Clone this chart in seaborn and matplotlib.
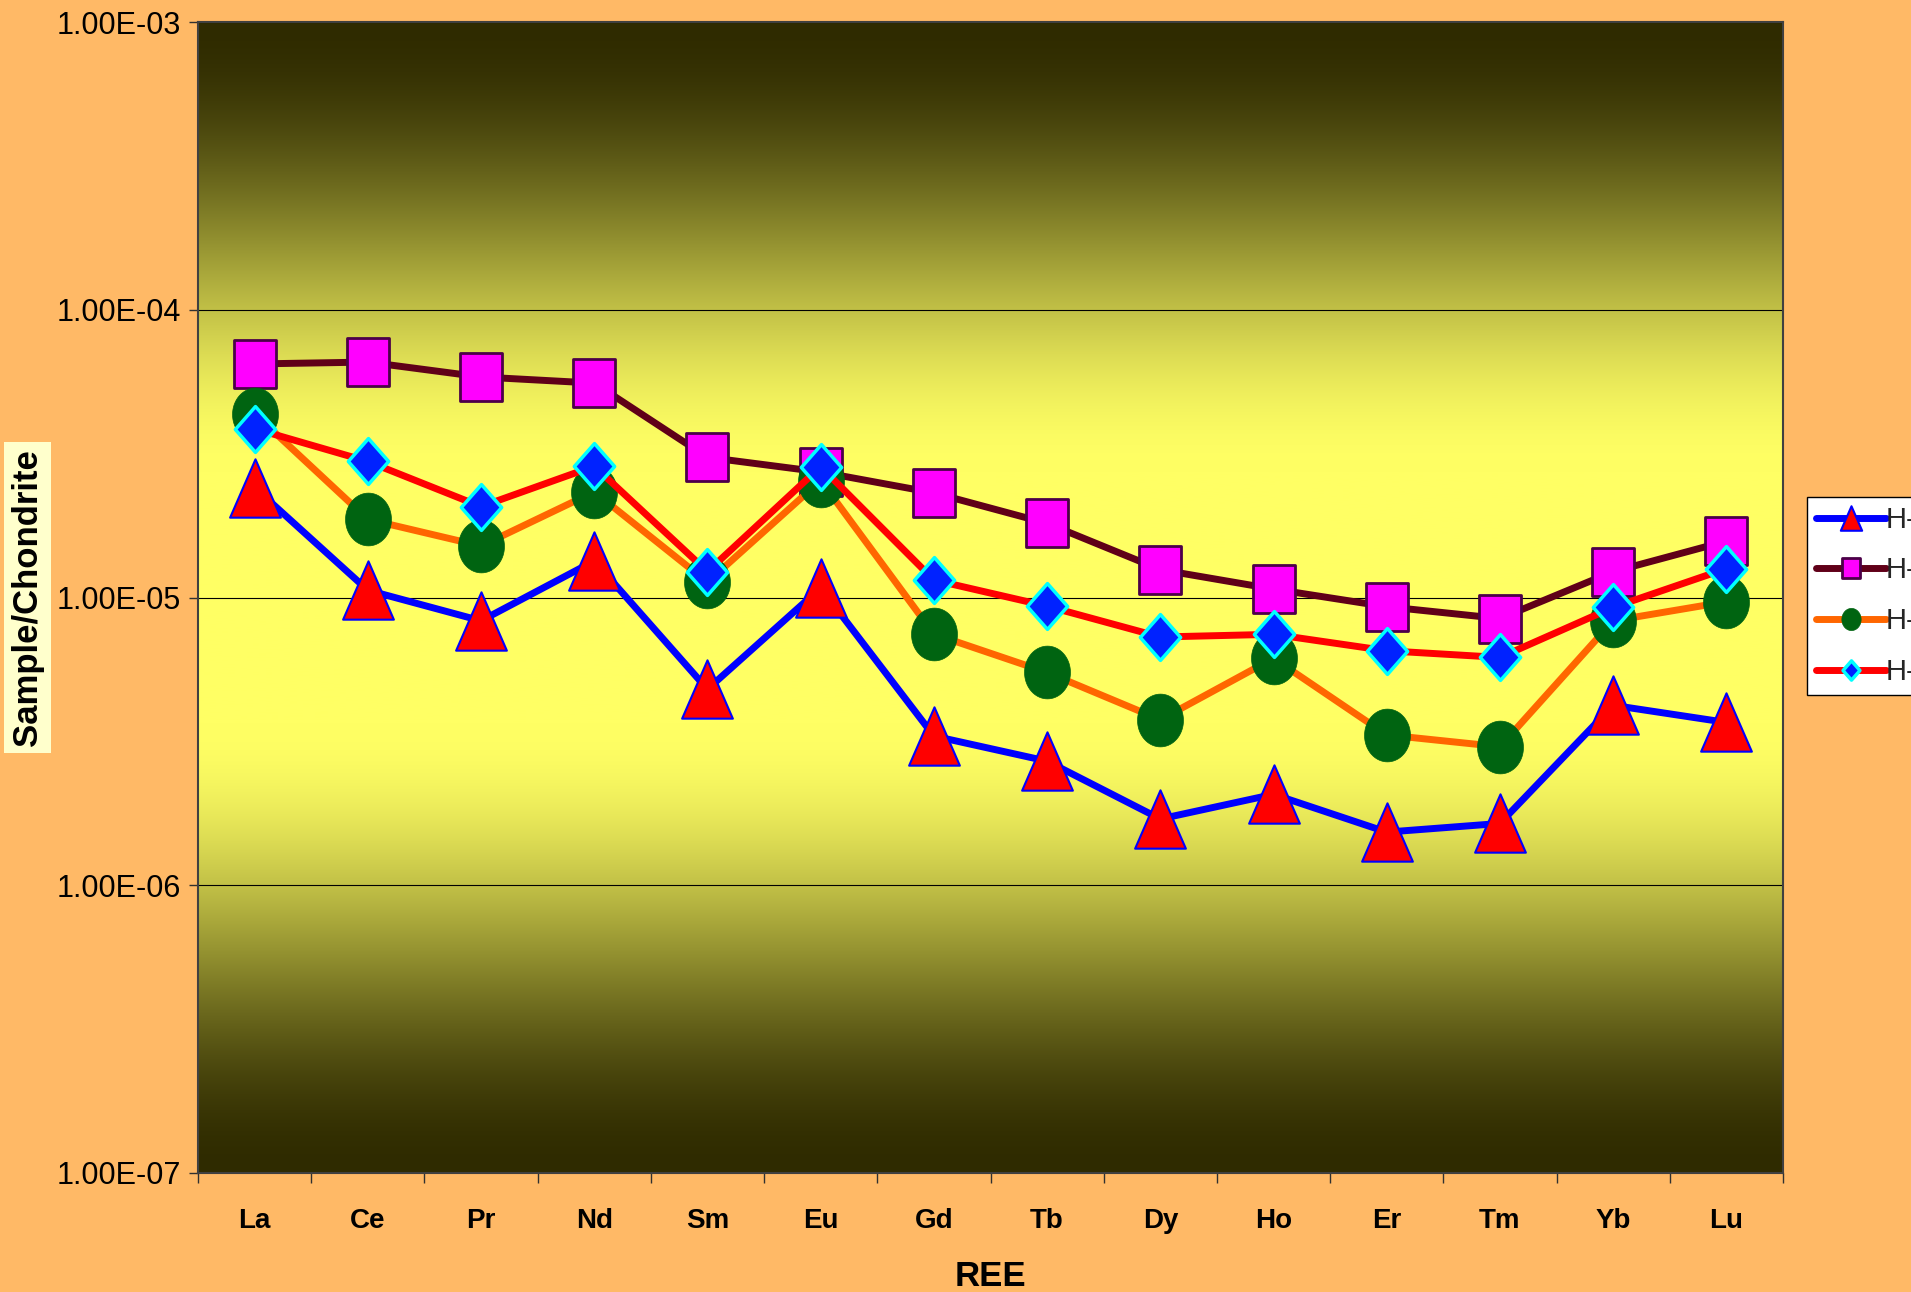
import numpy as np
import pandas as pd
import matplotlib
matplotlib.use("Agg")
import matplotlib.pyplot as plt
from matplotlib.path import Path
from matplotlib.ticker import FixedLocator, FixedFormatter, NullLocator, NullFormatter, FuncFormatter
import seaborn as sns

# Chondrite-normalised REE values
elements = ["La", "Ce", "Pr", "Nd", "Sm", "Eu", "Gd", "Tb", "Dy", "Ho", "Er", "Tm", "Yb", "Lu"]
series_names = ["H-1", "H-2", "H-3", "H-4"]
h1 = [2.41e-5, 1.06e-5, 8.3e-6, 1.34e-5, 4.8e-6, 1.08e-5, 3.3e-6, 2.7e-6, 1.7e-6, 2.07e-6, 1.53e-6, 1.64e-6, 4.22e-6, 3.68e-6]
h2 = [6.48e-5, 6.58e-5, 5.84e-5, 5.56e-5, 3.07e-5, 2.73e-5, 2.31e-5, 1.81e-5, 1.25e-5, 1.07e-5, 9.29e-6, 8.45e-6, 1.23e-5, 1.57e-5]
h3 = [4.35e-5, 1.87e-5, 1.51e-5, 2.33e-5, 1.13e-5, 2.55e-5, 7.46e-6, 5.49e-6, 3.76e-6, 6.15e-6, 3.33e-6, 3.03e-6, 8.30e-6, 9.67e-6]
h4 = [3.86e-5, 2.97e-5, 2.07e-5, 2.86e-5, 1.23e-5, 2.85e-5, 1.15e-5, 9.33e-6, 7.29e-6, 7.45e-6, 6.53e-6, 6.19e-6, 9.24e-6, 1.26e-5]
y_ticks = [1e-7, 1e-6, 1e-5, 1e-4, 1e-3]

df = pd.DataFrame({"REE": elements, "H-1": h1, "H-2": h2, "H-3": h3, "H-4": h4})
long = df.melt(id_vars="REE", var_name="sample", value_name="ratio")

# Marker outlines, slightly taller than wide
def closed(points):
    return Path(np.array(points + [points[0]]), closed=True)

tri = closed([(0, 1), (-0.87, -1), (0.87, -1)])
sqr = closed([(-0.865, -1), (0.865, -1), (0.865, 1), (-0.865, 1)])
dia = closed([(0, 1), (0.88, 0), (0, -1), (-0.88, 0)])
th = np.linspace(0, 2 * np.pi, 73)[:-1]
ell = closed([(0.87 * np.cos(a), np.sin(a)) for a in th])

styles = {
    "H-1": dict(color="#0000FF", marker=tri, markersize=42, markerfacecolor="#FF0000",
                markeredgecolor="#0000FF", markeredgewidth=1.5),
    "H-2": dict(color="#600018", marker=sqr, markersize=35, markerfacecolor="#FF00FF",
                markeredgecolor="#4B0048", markeredgewidth=2.0),
    "H-3": dict(color="#FF6600", marker=ell, markersize=38, markerfacecolor="#006411",
                markeredgecolor="#006411", markeredgewidth=0.5),
    "H-4": dict(color="#FF0000", marker=dia, markersize=33, markerfacecolor="#0022FF",
                markeredgecolor="#00FFFF", markeredgewidth=2.5),
}

sns.set_theme(style="white")
plt.rcParams["font.family"] = ["Liberation Sans", "DejaVu Sans"]

W, H = 1911, 1292
fig = plt.figure(figsize=(W / 100, H / 100), dpi=100, facecolor="#FFB966")
rect = [198 / W, 1 - 1173 / H, 1585 / W, 1151 / H]

# Plot-area gradient: dark olive at the edges, bright yellow band in the middle
bg = fig.add_axes(rect, zorder=0)
t = np.abs(np.linspace(-1, 1, 800))
x = np.clip((t - 0.22) / 0.78, 0, 1)
f = (3 * x ** 2 - 2 * x ** 3)[:, None]
bright = np.array([255, 255, 100]) / 255
dark = np.array([47, 43, 0]) / 255
grad = bright[None, :] * (1 - f) + dark[None, :] * f
bg.imshow(grad[:, None, :], aspect="auto", extent=[0, 1, 0, 1], interpolation="bilinear")
bg.set_axis_off()

ax = fig.add_axes(rect, zorder=1)
ax.set_facecolor("none")

for i, name in enumerate(series_names):
    sub = long[long["sample"] == name]
    sns.lineplot(data=sub, x="REE", y="ratio", ax=ax, sort=False, errorbar=None,
                 label=name, linewidth=5, zorder=3 + i, **styles[name])

ax.set_yscale("log")
ax.set_ylim(1e-7, 1e-3)
ax.set_xlim(-0.5, len(elements) - 0.5)

ax.yaxis.set_major_locator(FixedLocator(y_ticks))
ax.yaxis.set_major_formatter(FuncFormatter(lambda v, p: f"{v:.2E}"))
ax.yaxis.set_minor_locator(NullLocator())

ax.xaxis.set_major_locator(FixedLocator(np.arange(-0.5, len(elements), 1.0)))
ax.xaxis.set_major_formatter(NullFormatter())
ax.xaxis.set_minor_locator(FixedLocator(np.arange(len(elements))))
ax.xaxis.set_minor_formatter(FixedFormatter(elements))

ax.tick_params(axis="y", which="major", left=True, direction="out", length=6.5, width=1,
               color="#303030", pad=6, labelsize=22, labelcolor="black")
ax.tick_params(axis="x", which="major", bottom=True, direction="out", length=7, width=1,
               color="#303030")
ax.tick_params(axis="x", which="minor", bottom=True, length=0, pad=25, labelsize=20,
               labelcolor="black")
for lbl in ax.get_xticklabels(minor=True):
    lbl.set_fontweight("bold")

ax.grid(False)
ax.yaxis.grid(True, which="major", color="black", linewidth=0.8)
ax.set_axisbelow(True)
for sp in ax.spines.values():
    sp.set_visible(True)
    sp.set_color("#404040")
    sp.set_linewidth(1.5)

ax.set_xlabel("REE", fontsize=25, fontweight="bold", color="black")
ax.xaxis.set_label_coords(0.5, -0.076)
ax.set_ylabel("Sample/Chondrite", fontsize=25, fontweight="bold", color="black",
              bbox=dict(facecolor="#FFFFCC", edgecolor="none", pad=5))
ax.yaxis.set_label_coords(-0.097, 0.5)

leg = ax.legend(loc="upper left", bbox_to_anchor=(1807 / W, 1 - 497 / H),
                bbox_transform=fig.transFigure, frameon=True, fancybox=False,
                edgecolor="black", facecolor="white", framealpha=1, fontsize=21,
                markerscale=0.42, handlelength=2.4, handletextpad=0.0, borderpad=0.3,
                labelspacing=0.78, borderaxespad=0)
leg.get_frame().set_linewidth(1)

fig.savefig("out.png", dpi=100, facecolor=fig.get_facecolor())
